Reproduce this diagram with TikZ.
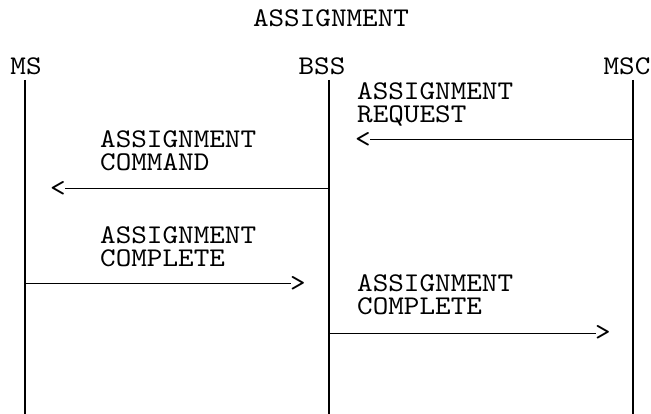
\documentclass[tikz,border=0pt]{standalone}
\usepackage{fontspec}
\newfontfamily\courfont{lmmono10-regular.otf}[FakeStretch=1.1]
\begin{document}
\begin{tikzpicture}[x=1pt,y=-1pt,
  every node/.style={inner sep=0pt, font=\courfont\fontsize{27}{23}\selectfont},
  lbl/.style={anchor=base west, align=left},
  tipnode/.style={anchor=west},
  lifeline/.style={line width=1.3pt},
  msg/.style={line width=1pt}]
\useasboundingbox (0,0) rectangle (651,414);
% title and headers
\node[anchor=base] (title) at (331,27) {ASSIGNMENT};
\node[anchor=base] (ms)  at (26,75)  {MS};
\node[anchor=base] (bss) at (322,75) {BSS};
\node[anchor=base] (msc) at (627,75) {MSC};
% lifelines
\coordinate (msT)  at (25,80);  \coordinate (msB)  at (25,414);
\coordinate (bssT) at (329,80); \coordinate (bssB) at (329,414);
\coordinate (mscT) at (633,80); \coordinate (mscB) at (633,414);
\draw[lifeline] (msT) -- (msB);
\draw[lifeline] (bssT) -- (bssB);
\draw[lifeline] (mscT) -- (mscB);
% message 1
\node[lbl] (l1) at (357,123) {ASSIGNMENT\\REQUEST};
\node[tipnode] (t1) at (355,140) {<};
\coordinate (s1) at (633,140);
\draw[msg, shorten >=-1pt] (s1) -- (t1.east);
% message 2
\node[lbl] (l2) at (100,171) {ASSIGNMENT\\COMMAND};
\node[tipnode] (t2) at (50,189) {<};
\coordinate (s2) at (329,189);
\draw[msg, shorten >=-1pt] (s2) -- (t2.east);
% message 3
\node[lbl] (l3) at (100,267) {ASSIGNMENT\\COMPLETE};
\node[tipnode] (t3) at (290,284) {>};
\coordinate (s3) at (25,284);
\draw[msg, shorten >=-1pt] (s3) -- (t3.west);
% message 4
\node[lbl] (l4) at (357,315) {ASSIGNMENT\\COMPLETE};
\node[tipnode] (t4) at (595,333) {>};
\coordinate (s4) at (329,333);
\draw[msg, shorten >=-1pt] (s4) -- (t4.west);
\end{tikzpicture}
\end{document}
